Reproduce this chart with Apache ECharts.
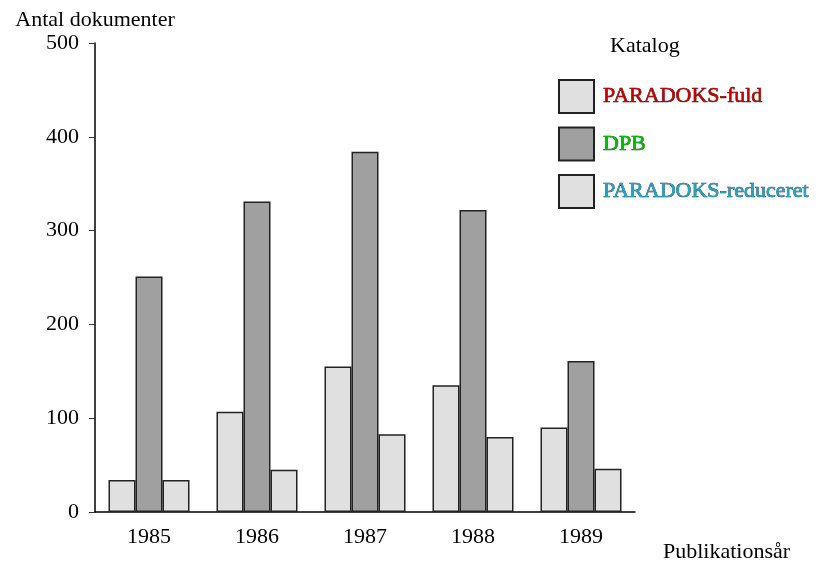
<!DOCTYPE html>
<html lang="da">
<head>
    <meta charset="UTF-8">
    <title>Antal dokumenter</title>
    <script src="https://cdn.jsdelivr.net/npm/echarts@6/dist/echarts.min.js"></script>
</head>
<body style="margin:0;">
    <div id="pic1" style="width:818px;height:563px;"></div>
    <script>
        // data
        var years = ['1985', '1986', '1987', '1988', '1989'];
        var paradoksFuld = [34, 107, 155, 135, 90];
        var dpb = [251, 331, 384, 322, 161];
        var paradoksReduceret = [34, 45, 83, 80, 46];
        var yTicks = [0, 100, 200, 300, 400, 500];

        var serif = 'Liberation Serif';
        var myChart = echarts.init(document.getElementById('pic1'));

        function barStyle(color) {
            return { color: color, borderColor: '#222', borderWidth: 1.5 };
        }

        var option = {
            backgroundColor: '#fff',
            animation: false,
            textStyle: { fontFamily: serif },
            title: {
                text: 'Katalog',
                left: 610,
                top: 35,
                padding: 0,
                textStyle: { fontFamily: serif, fontWeight: 'normal', fontSize: 22, color: '#000' }
            },
            legend: {
                orient: 'vertical',
                left: 558,
                top: 79,
                padding: 0,
                icon: 'rect',
                itemWidth: 35,
                itemHeight: 33,
                itemGap: 12.5,
                textStyle: { fontFamily: serif, fontSize: 22, padding: [0, 0, 0, 4] },
                data: [
                    { name: 'PARADOKS-fuld', textStyle: { color: '#c00000', textBorderColor: '#400', textBorderWidth: 0.6 } },
                    { name: 'DPB', textStyle: { color: '#00b800', textBorderColor: '#040', textBorderWidth: 0.6 } },
                    { name: 'PARADOKS-reduceret', textStyle: { color: '#2aa0c0', textBorderColor: '#034', textBorderWidth: 0.6 } }
                ]
            },
            grid: { left: 95, right: 183, top: 43, bottom: 50 },
            xAxis: {
                type: 'category',
                data: years,
                name: 'Publikationsår',
                nameLocation: 'end',
                nameGap: 28,
                nameTextStyle: { fontFamily: serif, fontSize: 22, color: '#000', align: 'left', verticalAlign: 'top', padding: [29, 0, 0, 0] },
                axisLine: { lineStyle: { color: '#000', width: 1.5 } },
                axisTick: { alignWithLabel: true, length: 6, lineStyle: { color: '#333' } },
                axisLabel: { fontFamily: serif, fontSize: 22, color: '#000', margin: 14 }
            },
            yAxis: {
                type: 'value',
                min: 0,
                max: 500,
                interval: 100,
                name: 'Antal dokumenter',
                nameLocation: 'end',
                nameGap: 12,
                nameTextStyle: { fontFamily: serif, fontSize: 22, color: '#000', align: 'center' },
                splitLine: { show: false },
                axisLine: { show: true, lineStyle: { color: '#000', width: 1.5 } },
                axisTick: { show: true, length: 6, lineStyle: { color: '#333' } },
                axisLabel: {
                    fontFamily: serif, fontSize: 22, color: '#000', margin: 16,
                    formatter: function (v) { return yTicks.indexOf(v) >= 0 ? String(v) : ''; }
                }
            },
            series: [
                { name: 'PARADOKS-fuld', type: 'bar', barGap: '0%', barCategoryGap: '25%', itemStyle: barStyle('#e0e0e0'), data: paradoksFuld },
                { name: 'DPB', type: 'bar', barGap: '0%', barCategoryGap: '25%', itemStyle: barStyle('#a0a0a0'), data: dpb },
                { name: 'PARADOKS-reduceret', type: 'bar', barGap: '0%', barCategoryGap: '25%', itemStyle: barStyle('#e0e0e0'), data: paradoksReduceret }
            ]
        };

        myChart.setOption(option);
    </script>
</body>
</html>
